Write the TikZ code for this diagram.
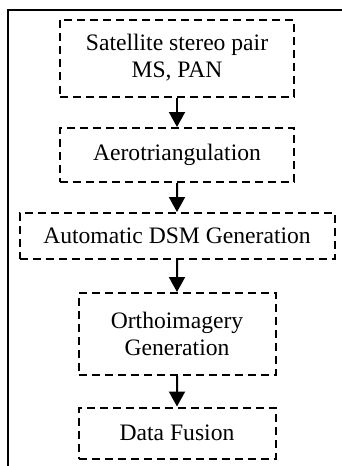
\documentclass[tikz,border=0pt]{standalone}
\usepackage{fontspec}
\setmainfont{Liberation Serif}
\usetikzlibrary{trees,arrows.meta}

\begin{document}
\begin{tikzpicture}[x=1pt,y=1pt,
  every node/.style={draw,line width=1pt,dash pattern=on 4pt off 2.5pt,
    align=center,inner sep=0pt,font=\fontsize{11.8}{13.5}\selectfont},
  edge from parent/.style={draw,solid,line width=1pt,
    -{Triangle[width=8pt,length=7.5pt]}},
  parent anchor=south,child anchor=north,
  level 1/.style={level distance=48.5pt},
  level 2/.style={level distance=40.5pt},
  level 3/.style={level distance=49pt},
  level 4/.style={level distance=49.5pt}]
  \useasboundingbox (0,0) rectangle (171,-233);
  \draw[line width=1pt] (171,-5) -| (4,-233);
  \node[minimum width=117pt,minimum height=38.5pt] (pair) at (88.5,-29)
    {Satellite stereo pair\\MS, PAN}
    child {node[minimum width=117pt,minimum height=27pt] (aero) {Aerotriangulation}
    child {node[minimum width=157.5pt,minimum height=23pt] (dsm) {Automatic DSM Generation}
    child {node[minimum width=98.5pt,minimum height=41pt] (ortho) {Orthoimagery\\Generation}
    child {node[minimum width=98.5pt,minimum height=25.5pt] (fusion) {Data Fusion}}
    }
    }
    };
\end{tikzpicture}
\end{document}
